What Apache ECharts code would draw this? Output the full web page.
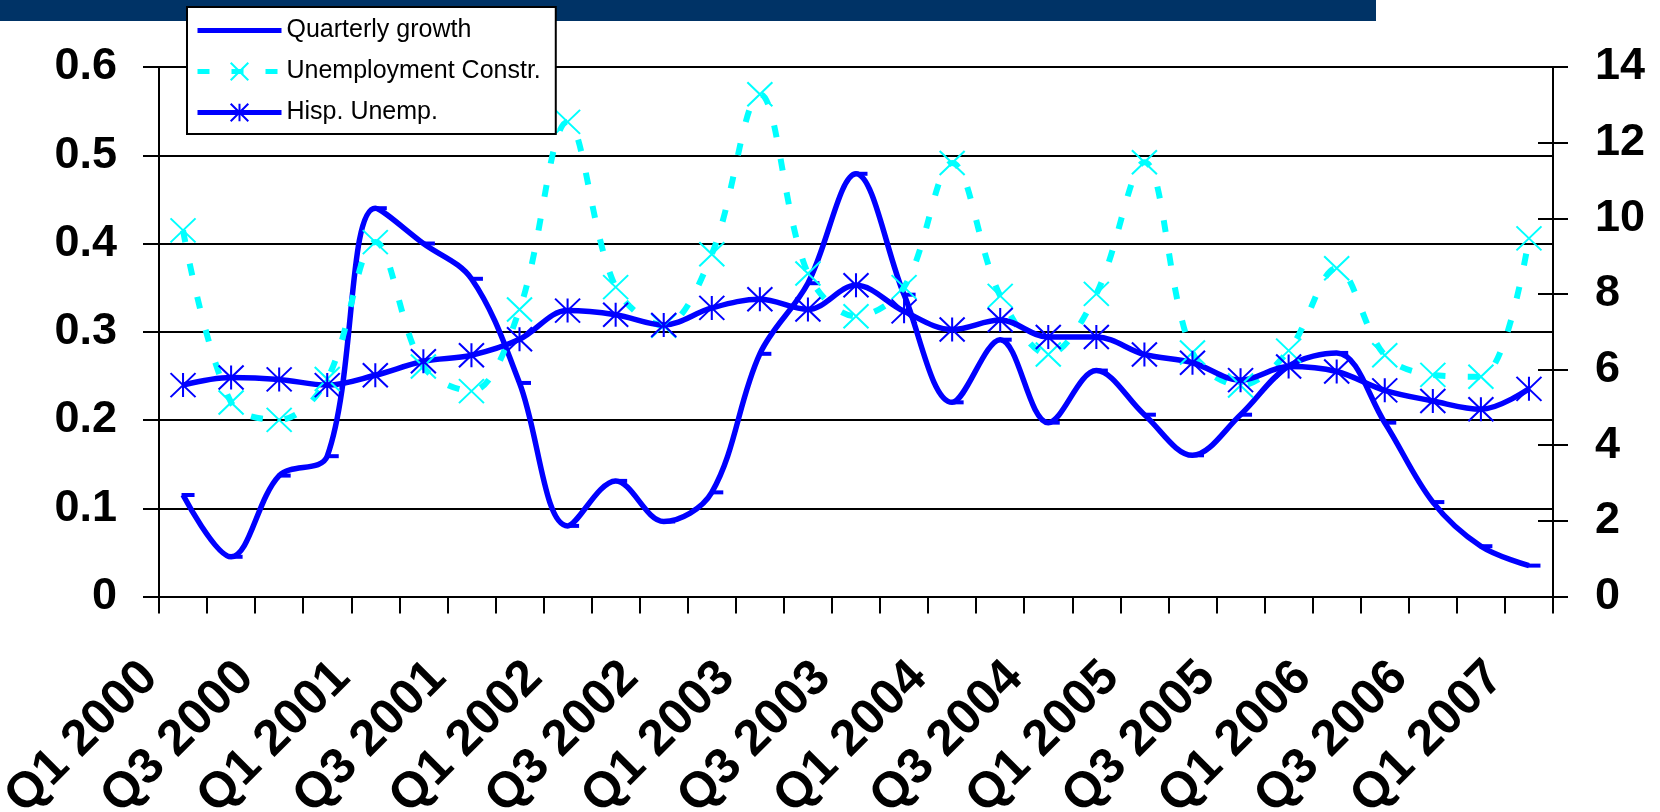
<!DOCTYPE html>
<html>
<head>
<meta charset="utf-8">
<script src="https://cdn.jsdelivr.net/npm/echarts@6/dist/echarts.min.js"></script>
<style>
  html, body { margin: 0; padding: 0; background: #fff; }
  #chart { width: 1660px; height: 812px; }
</style>
</head>
<body>
<div id="chart"></div>
<script>
// Quarters on the category axis
const categories = [
  'Q1 2000', 'Q2 2000', 'Q3 2000', 'Q4 2000',
  'Q1 2001', 'Q2 2001', 'Q3 2001', 'Q4 2001',
  'Q1 2002', 'Q2 2002', 'Q3 2002', 'Q4 2002',
  'Q1 2003', 'Q2 2003', 'Q3 2003', 'Q4 2003',
  'Q1 2004', 'Q2 2004', 'Q3 2004', 'Q4 2004',
  'Q1 2005', 'Q2 2005', 'Q3 2005', 'Q4 2005',
  'Q1 2006', 'Q2 2006', 'Q3 2006', 'Q4 2006',
  'Q1 2007'
];

// Quarterly growth (left axis)
const quarterlyGrowth = [
  0.115, 0.045, 0.137, 0.159, 0.440, 0.400, 0.360, 0.242,
  0.080, 0.131, 0.085, 0.118, 0.275, 0.355, 0.479, 0.342,
  0.220, 0.291, 0.197, 0.256, 0.206, 0.160, 0.206, 0.261,
  0.276, 0.197, 0.107, 0.057, 0.035
];

// Construction unemployment rate, % (right axis)
const unemploymentConstr = [
  9.68, 5.13, 4.67, 5.75, 9.37, 6.08, 5.43, 7.59,
  12.55, 8.18, 7.16, 9.05, 13.28, 8.54, 7.41, 8.18,
  11.46, 7.95, 6.40, 8.00, 11.48, 6.45, 5.58, 6.50,
  8.68, 6.38, 5.86, 5.81, 9.47
];

// Hispanic unemployment rate, % (right axis)
const hispUnemp = [
  5.59, 5.79, 5.74, 5.59, 5.85, 6.22, 6.38, 6.80,
  7.56, 7.45, 7.18, 7.63, 7.86, 7.59, 8.23, 7.54,
  7.06, 7.31, 6.86, 6.86, 6.40, 6.18, 5.72, 6.08,
  5.95, 5.45, 5.17, 4.95, 5.49
];

const BLUE = '#0000ff';
const CYAN = '#00ffff';
const FONT = '"Liberation Sans", Arial, Helvetica, sans-serif';
const CROSS = 'path://M0,0L10,10M10,0L0,10';
const STAR = 'path://M0,0L10,10M10,0L0,10M5,0L5,10';
const SMOOTH = 0.35;

const axisFont = { fontFamily: FONT, fontSize: 45, fontWeight: 'bold', color: '#000' };

const chart = echarts.init(document.getElementById('chart'), null, { renderer: 'canvas' });

chart.setOption({
  animation: false,
  backgroundColor: '#fff',
  graphic: [
    { type: 'rect', left: 0, top: 0, z: 0, shape: { width: 1376, height: 21 }, style: { fill: '#003366' } }
  ],
  legend: {
    orient: 'vertical',
    left: 187,
    top: 7,
    z: 10,
    backgroundColor: '#fff',
    borderColor: '#000',
    borderWidth: 2,
    borderRadius: 0,
    padding: [11, 15, 9, 8],
    itemWidth: 84,
    itemHeight: 22,
    itemGap: 16,
    textStyle: { fontFamily: FONT, fontSize: 25, lineHeight: 24, color: '#000' },
    data: [
      { name: 'Quarterly growth', itemStyle: { opacity: 0 }, lineStyle: { color: BLUE, width: 5 } },
      { name: 'Unemployment Constr.', itemStyle: { color: CYAN, borderColor: CYAN, borderWidth: 2 },
        lineStyle: { color: CYAN, width: 5, type: [12, 22] } },
      { name: 'Hisp. Unemp.', itemStyle: { color: BLUE, borderColor: BLUE, borderWidth: 2 },
        lineStyle: { color: BLUE, width: 5 } }
    ]
  },
  grid: { left: 159, right: 107, top: 67, bottom: 215.5, containLabel: false, outerBoundsMode: 'none' },
  xAxis: {
    type: 'category',
    data: categories,
    boundaryGap: true,
    axisLine: { show: true, lineStyle: { color: '#000', width: 2 } },
    axisTick: { show: true, interval: 0, length: 17, lineStyle: { color: '#000', width: 2 } },
    axisLabel: Object.assign({}, axisFont, {
      interval: 1, rotate: 45, margin: 40, padding: [0, 47, 0, 0], fontSize: 50
    }),
    splitLine: { show: false }
  },
  yAxis: [
    {
      type: 'value', position: 'left', min: 0, max: 0.6, interval: 0.1,
      axisLine: { show: true, lineStyle: { color: '#000', width: 2 } },
      axisTick: { show: true, length: 16, lineStyle: { color: '#000', width: 2 } },
      axisLabel: Object.assign({ margin: 42 }, axisFont),
      splitLine: { show: true, lineStyle: { color: '#000', width: 2 } }
    },
    {
      type: 'value', position: 'right', min: 0, max: 14, interval: 2,
      axisLine: { show: true, lineStyle: { color: '#000', width: 2 } },
      axisTick: { show: true, length: 15, lineStyle: { color: '#000', width: 2 } },
      axisLabel: Object.assign({ margin: 42 }, axisFont),
      splitLine: { show: false }
    },
    {
      // inner half of the crossing ticks on the right axis
      type: 'value', position: 'right', min: 0, max: 14, interval: 2,
      axisLine: { show: false },
      axisTick: { show: true, inside: true, length: 15, lineStyle: { color: '#000', width: 2 } },
      axisLabel: { show: false },
      splitLine: { show: false }
    }
  ],
  series: [
    {
      name: 'Quarterly growth',
      type: 'line',
      yAxisIndex: 0,
      data: quarterlyGrowth,
      smooth: SMOOTH,
      showAllSymbol: true,
      symbol: 'rect',
      symbolSize: [13, 4],
      symbolOffset: [5, 0],
      lineStyle: { color: BLUE, width: 5.5 },
      itemStyle: { color: BLUE }
    },
    {
      name: 'Unemployment Constr.',
      type: 'line',
      yAxisIndex: 1,
      data: unemploymentConstr,
      smooth: SMOOTH,
      showAllSymbol: true,
      symbol: CROSS,
      symbolSize: [25, 24],
      lineStyle: { color: CYAN, width: 6, type: [12, 22] },
      itemStyle: { color: CYAN, borderColor: CYAN, borderWidth: 2 }
    },
    {
      name: 'Hisp. Unemp.',
      type: 'line',
      yAxisIndex: 1,
      data: hispUnemp,
      smooth: SMOOTH,
      showAllSymbol: true,
      symbol: STAR,
      symbolSize: [25, 24],
      lineStyle: { color: BLUE, width: 5.5 },
      itemStyle: { color: BLUE, borderColor: BLUE, borderWidth: 2 }
    }
  ]
});
</script>
</body>
</html>
